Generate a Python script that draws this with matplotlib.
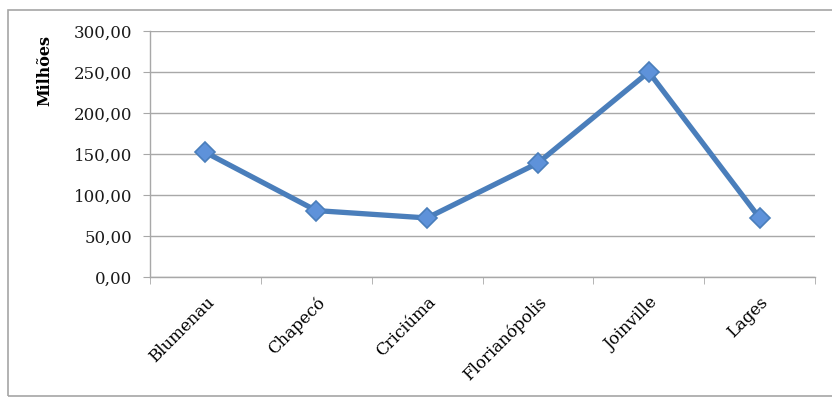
import matplotlib
matplotlib.use("Agg")
import matplotlib.pyplot as plt
from matplotlib.patches import Rectangle

# Municipal values in millions
cidades = ["Blumenau", "Chapecó", "Criciúma", "Florianópolis", "Joinville", "Lages"]
valores = [152, 81, 72, 139, 250, 72]
y_ticks = [0, 50, 100, 150, 200, 250, 300]
y_labels = ["0,00", "50,00", "100,00", "150,00", "200,00", "250,00", "300,00"]

W, H = 832, 398
fig = plt.figure(figsize=(W / 100, H / 100), dpi=100)
fig.patch.set_facecolor("white")

# outer chart frame
fig.patches.append(Rectangle((8 / W, 2 / H), 1.0, (H - 12) / H,
                             transform=fig.transFigure, fill=False,
                             edgecolor="#a6a6a6", linewidth=1.2))

ax = fig.add_axes([150 / W, 1 - 277 / H, (815 - 150) / W, (277 - 31) / H])

font = "DejaVu Serif"
grid_c = "#a8a8a8"

x = list(range(len(cidades)))
ax.plot(x, valores, color="#4a7ebb", linewidth=3.8, solid_joinstyle="round",
        zorder=3)
ax.plot(x, valores, linestyle="none", marker="D", markersize=10,
        markerfacecolor="#5e92da", markeredgecolor="#4a7ebb",
        markeredgewidth=1.2, zorder=4)

ax.set_xlim(-0.5, len(cidades) - 0.5)
ax.set_ylim(0, 300)

ax.set_yticks(y_ticks)
ax.set_yticklabels(y_labels, fontfamily=font, fontsize=12)
ax.yaxis.grid(True, color=grid_c, linewidth=1.0)
ax.set_axisbelow(True)

ax.set_xticks(x)
ax.set_xticklabels(cidades, rotation=45, ha="right", rotation_mode="anchor",
                   fontfamily=font, fontsize=12)
ax.tick_params(axis="x", which="major", length=0, pad=12)
ax.set_xticks([i - 0.5 for i in range(len(cidades) + 1)], minor=True)
ax.tick_params(axis="x", which="minor", length=5, color=grid_c, direction="out")
ax.tick_params(axis="y", length=5, color=grid_c, pad=8, labelcolor="#1a1a1a")

for s in ["top", "right"]:
    ax.spines[s].set_visible(False)
for s in ["left", "bottom"]:
    ax.spines[s].set_color(grid_c)
    ax.spines[s].set_linewidth(1.0)

fig.text(45 / W, 1 - 70 / H, "Milhões", rotation=90, ha="center", va="center",
         fontfamily=font, fontsize=11.5, fontweight="bold")

fig.savefig("out.png", dpi=100, facecolor="white")
